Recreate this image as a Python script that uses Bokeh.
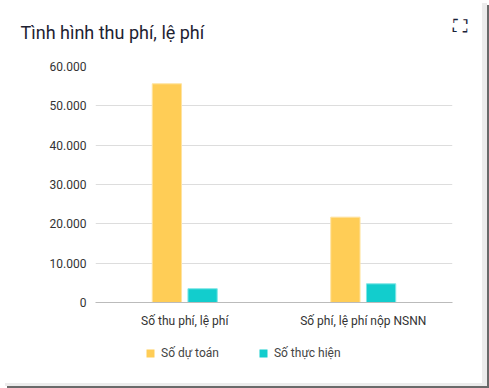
from bokeh.plotting import figure
from bokeh.models import (FactorRange, Range1d, CustomJSTickFormatter, Legend,
                          LegendItem, ColumnDataSource, Title)
from bokeh.layouts import column
from bokeh.transform import dodge
from bokeh.embed import file_html
from bokeh.resources import INLINE

categories = ["Số thu phí, lệ phí", "Số phí, lệ phí nộp NSNN"]
du_toan = [55600, 21700]
thuc_hien = [3500, 4750]
series_names = ["Số dự toán", "Số thực hiện"]
y_ticks = [0, 10000, 20000, 30000, 40000, 50000, 60000]
title_text = "Tình hình thu phí, lệ phí"

YELLOW = "#FFCD56"
TEAL = "#12CDCD"
FONT = "Roboto"

W = 482
MAIN_H, LEG_H = 338, 45
FL, FR, FT, FB = 95, 30, 66, 36

src = ColumnDataSource(dict(cat=categories, a=du_toan, b=thuc_hien))

# ---------- main chart ----------
p = figure(width=W, height=MAIN_H, x_range=FactorRange(*categories, range_padding=0),
           y_range=Range1d(0, 60000), output_backend="svg", toolbar_location=None,
           min_border_left=FL, min_border_right=FR, min_border_top=FT, min_border_bottom=FB,
           background_fill_color="white", border_fill_color="white", outline_line_color=None)

p.vbar(x=dodge("cat", -0.1, range=p.x_range), top="a", width=0.164, source=src,
       fill_color=YELLOW, line_color="#FFE3A0", line_width=1)
p.vbar(x=dodge("cat", 0.1, range=p.x_range), top="b", width=0.164, source=src,
       fill_color=TEAL, line_color="#7FE6E6", line_width=1)

p.xgrid.grid_line_color = None
p.ygrid.grid_line_color = "#DDDDDD"
p.ygrid.ticker = y_ticks
p.yaxis.ticker = y_ticks
p.yaxis.formatter = CustomJSTickFormatter(
    code="return tick.toString().replace(/\\B(?=(\\d{3})+(?!\\d))/g, '.');")
p.yaxis.axis_line_color = None
p.yaxis.major_tick_line_color = None
p.yaxis.minor_tick_line_color = None
p.yaxis.major_tick_out = 0
p.yaxis.major_tick_in = 0
p.yaxis.major_label_standoff = 9
p.yaxis.major_label_text_font = FONT
p.yaxis.major_label_text_font_size = "12px"
p.yaxis.major_label_text_color = "#333333"

p.xaxis.axis_line_color = "#BBBBBB"
p.xaxis.major_tick_line_color = None
p.xaxis.minor_tick_line_color = None
p.xaxis.major_tick_out = 0
p.xaxis.major_tick_in = 0
p.xaxis.major_label_standoff = 11
p.xaxis.major_label_text_font = FONT
p.xaxis.major_label_text_font_size = "12px"
p.xaxis.major_label_text_color = "#333333"

# title
p.title.text = title_text
p.title.text_font = FONT
p.title.text_font_size = "18px"
p.title.text_font_style = "normal"
p.title.text_color = "#1E2232"
p.title.align = "left"
p.title.vertical_align = "top"
p.title.offset = 20 - FL
p.title.standoff = 43

# expand icon (decorative)
icon = Title(text="⛶", align="left", offset=-48, standoff=-8,
             text_font="DejaVu Sans", text_font_size="19px", text_color="#1A2238",
             text_font_style="normal")
p.add_layout(icon, "right")

# ---------- legend ----------
leg = figure(width=W, height=LEG_H, x_range=FactorRange(*categories, range_padding=0),
             y_range=Range1d(-60000, -59999), output_backend="svg", toolbar_location=None,
             min_border_left=FL, min_border_right=FR, min_border_top=0, min_border_bottom=0,
             outline_line_color=None, background_fill_color="white", border_fill_color="white")
leg.axis.visible = False
leg.grid.visible = False
lr1 = leg.vbar(x="cat", top="a", width=0, source=src, fill_color=YELLOW, line_color=None)
lr2 = leg.vbar(x="cat", top="b", width=0, source=src, fill_color=TEAL, line_color=None)
legend = Legend(items=[LegendItem(label=series_names[0], renderers=[lr1]),
                       LegendItem(label=series_names[1], renderers=[lr2])],
                orientation="horizontal", location=(145 - FL, LEG_H - 22),
                border_line_color=None, background_fill_alpha=0, padding=0, margin=0,
                glyph_width=10, glyph_height=10, label_standoff=6, spacing=39,
                label_text_font=FONT, label_text_font_size="12px",
                label_text_color="#444444", label_height=14)
leg.add_layout(legend, "center")

layout = column(p, leg, spacing=0,
                styles={"box-shadow": "5px 3px 0px 0px #ECECEC, 7px 5px 0px 0px #6A6A6A"})

open("out.html", "w").write(file_html(layout, INLINE))
